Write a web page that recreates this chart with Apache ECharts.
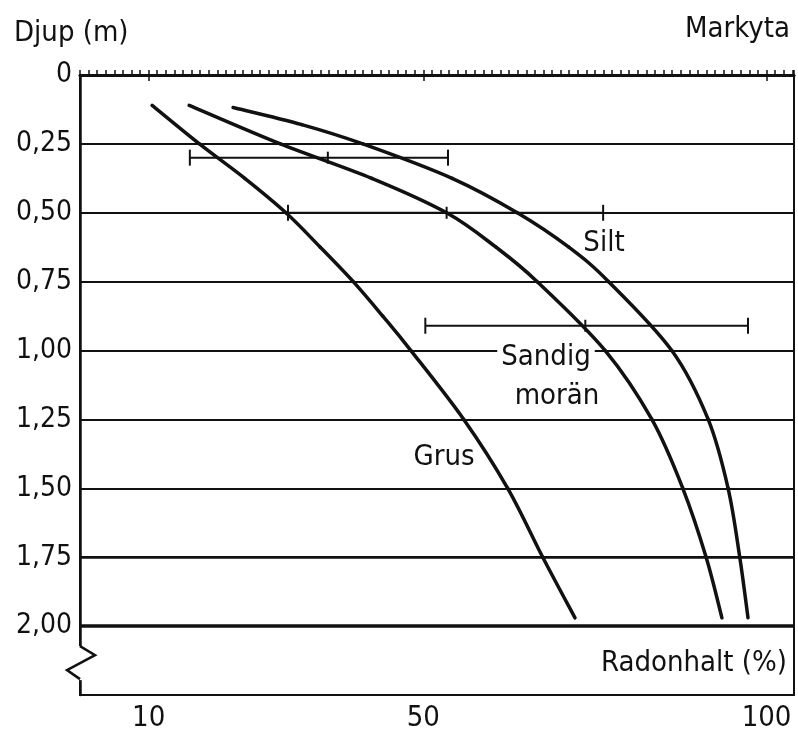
<!DOCTYPE html>
<html>
<head>
<meta charset="utf-8">
<title>Radonhalt</title>
<script src="https://cdn.jsdelivr.net/npm/echarts@6/dist/echarts.min.js"></script>
<style>
html,body{margin:0;padding:0;background:#fff}
#main{width:798px;height:745px}
</style>
</head>
<body>
<div id="main"></div>
<script>
// data: [radonhalt %, djup m]
var xTicks = [10, 50, 100];
var depthTicks = [0, 0.25, 0.5, 0.75, 1, 1.25, 1.5, 1.75, 2];
var depthLabels = ['0', '0,25', '0,50', '0,75', '1,00', '1,25', '1,50', '1,75', '2,00'];

var grus = [[10.5, 0.11], [17.4, 0.25], [24.0, 0.375], [30.0, 0.5], [35.0, 0.625], [39.8, 0.75], [44.1, 0.875], [48.2, 1.0], [55.9, 1.25], [62.3, 1.5], [67.4, 1.75], [72.1, 1.97]];
var sandigMoran = [[15.9, 0.11], [29.2, 0.25], [42.5, 0.375], [53.4, 0.5], [60.6, 0.625], [66.6, 0.75], [76.5, 1.0], [83.3, 1.25], [87.8, 1.5], [91.2, 1.75], [93.5, 1.97]];
var silt = [[22.3, 0.118], [32.3, 0.18], [41.2, 0.25], [54.2, 0.375], [63.7, 0.5], [71.2, 0.625], [77.0, 0.75], [86.2, 1.0], [91.5, 1.25], [94.4, 1.5], [96.1, 1.75], [97.3, 1.97]];
// spridning: [djup, mitt, min, max]
var errorBars = [[0.30, 36.1, 16.0, 53.6], [0.50, 53.4, 30.3, 76.2], [0.91, 73.6, 50.3, 97.3]];

var FONT = '"DejaVu Sans Condensed", "Liberation Sans Narrow", "DejaVu Sans", sans-serif';
var INK = '#111';

var myChart = echarts.init(document.getElementById('main'));

// mjuk kurva (Catmull-Rom) genom punkterna, ett segment per datapunkt
function curve(name, data) {
	return {
		name: name,
		type: 'custom',
		data: data,
		encode: {x: 0, y: 1},
		z: 5,
		renderItem: function (params, api) {
			var i = params.dataIndex, n = data.length;
			if (i >= n - 1) return null;
			var p0 = api.coord(data[Math.max(i - 1, 0)]);
			var p1 = api.coord(data[i]);
			var p2 = api.coord(data[i + 1]);
			var p3 = api.coord(data[Math.min(i + 2, n - 1)]);
			return {
				type: 'bezierCurve',
				shape: {
					x1: p1[0], y1: p1[1], x2: p2[0], y2: p2[1],
					cpx1: p1[0] + (p2[0] - p0[0]) / 6, cpy1: p1[1] + (p2[1] - p0[1]) / 6,
					cpx2: p2[0] - (p3[0] - p1[0]) / 6, cpy2: p2[1] - (p3[1] - p1[1]) / 6
				},
				style: {stroke: INK, lineWidth: 3.5, fill: null, lineCap: 'round'}
			};
		}
	};
}

var option = {
	animation: false,
	backgroundColor: '#fff',
	grid: {left: 80, right: 4, top: 75, bottom: 50, show: true, borderColor: INK, borderWidth: 2},
	xAxis: [{
		type: 'value',
		min: 0,
		max: 104,
		position: 'bottom',
		axisLine: {show: true, lineStyle: {color: INK, width: 3}},
		axisTick: {show: true, customValues: xTicks, length: 6, lineStyle: {color: INK, width: 1.5}},
		axisLabel: {customValues: xTicks, color: INK, fontSize: 29, fontFamily: FONT, margin: 9},
		splitLine: {show: false}
	}, {
		// markytan
		type: 'value',
		min: 0,
		max: 104,
		interval: 1.25,
		position: 'top',
		axisLine: {show: true, lineStyle: {color: INK, width: 2.5}},
		axisTick: {show: true, inside: false, length: 5, lineStyle: {color: INK, width: 1.5}},
		axisLabel: {show: false},
		splitLine: {show: false}
	}],
	yAxis: {
		type: 'value',
		inverse: true,
		min: 0,
		max: 2.25,
		interval: 0.25,
		axisLine: {show: true, lineStyle: {color: INK, width: 2.5}},
		axisTick: {show: false},
		axisLabel: {
			color: INK,
			fontSize: 28,
			fontFamily: FONT,
			margin: 8,
			formatter: function (v) {
				var i = depthTicks.indexOf(Math.round(v * 100) / 100);
				return i < 0 ? '' : depthLabels[i];
			}
		},
		splitLine: {show: true, lineStyle: {color: INK, width: 2}}
	},
	series: [
		curve('Grus', grus),
		curve('Sandig morän', sandigMoran),
		curve('Silt', silt),
		{
			type: 'custom',
			name: 'spridning',
			data: errorBars,
			encode: {x: [1, 2, 3], y: 0},
			z: 6,
			renderItem: function (params, api) {
				var y = api.value(0);
				var pL = api.coord([api.value(2), y]);
				var pC = api.coord([api.value(1), y]);
				var pR = api.coord([api.value(3), y]);
				var st = {stroke: INK, lineWidth: 2};
				return {
					type: 'group',
					children: [
						{type: 'line', shape: {x1: pL[0], y1: pL[1], x2: pR[0], y2: pR[1]}, style: st},
						{type: 'line', shape: {x1: pL[0], y1: pL[1] - 8, x2: pL[0], y2: pL[1] + 8}, style: st},
						{type: 'line', shape: {x1: pR[0], y1: pR[1] - 8, x2: pR[0], y2: pR[1] + 8}, style: st},
						{type: 'line', shape: {x1: pC[0], y1: pC[1] - 6, x2: pC[0], y2: pC[1] + 6}, style: st}
					]
				};
			}
		},
		{
			type: 'line',
			data: [],
			markLine: {
				silent: true,
				symbol: 'none',
				label: {show: false},
				data: [
					{yAxis: 1.75, lineStyle: {color: INK, width: 2.5, type: 'solid'}},
					{yAxis: 2, lineStyle: {color: INK, width: 3.5, type: 'solid'}}
				]
			}
		}
	]
};
myChart.setOption(option);

// texter och axelbrott
var o = myChart.convertToPixel({xAxisIndex: 0, yAxisIndex: 0}, [0, 2]);
function txt(s, x, y, align, extra) {
	var st = {text: s, x: x, y: y, font: '29px ' + FONT, fill: INK, textAlign: align || 'center', textVerticalAlign: 'middle'};
	for (var k in extra) st[k] = extra[k];
	return {type: 'text', z: 20, style: st};
}
myChart.setOption({
	graphic: [
		txt('Djup (m)', 14, 33, 'left'),
		txt('Markyta', 790, 29, 'right'),
		txt('Radonhalt (%)', 787, 663, 'right'),
		txt('Silt', 604, 243),
		txt('Sandig', 546, 357, 'center', {backgroundColor: '#fff', padding: [0, 4]}),
		txt('morän', 557, 396),
		txt('Grus', 444, 457),
		{type: 'rect', z: 19, shape: {x: o[0] - 4, y: o[1] + 20, width: 8, height: 34}, style: {fill: '#fff'}},
		{type: 'polyline', z: 20, shape: {points: [[o[0], o[1] + 20], [o[0] + 15, o[1] + 29], [o[0] - 13, o[1] + 44], [o[0], o[1] + 53]]}, style: {stroke: INK, lineWidth: 2.5, fill: null}}
	]
});
</script>
</body>
</html>
